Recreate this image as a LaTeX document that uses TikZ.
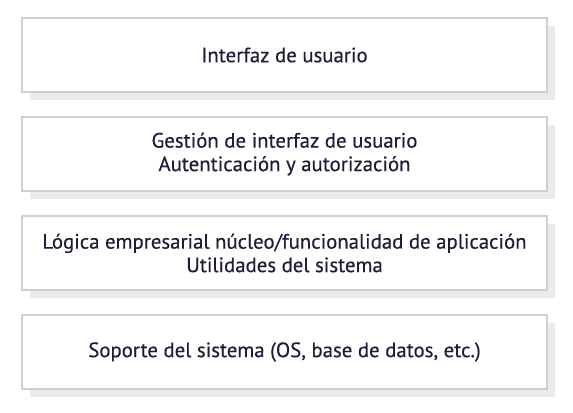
\documentclass[tikz,border=0pt]{standalone}
\usepackage{fontspec}
\setmainfont[FakeBold=0.3]{PT Sans}
\usetikzlibrary{shadows}
\definecolor{boxline}{HTML}{CFCFCF}
\definecolor{shadowgray}{HTML}{EBEBED}
\definecolor{txt}{HTML}{1E1C36}
\tikzset{
  layerbox/.style={draw=boxline, line width=2bp, fill=white,
    minimum width=525bp, minimum height=74bp, inner sep=0pt,
    align=center, text=txt, font=\fontsize{20.8bp}{23.5bp}\selectfont,
    drop shadow={shadow xshift=8bp, shadow yshift=-8bp, fill=shadowgray, opacity=1}}
}
\begin{document}
\begin{tikzpicture}[x=1bp,y=-1bp]
\fill[white] (0,0) rectangle (573,412);
\useasboundingbox (0,0) rectangle (573,412);
\node[layerbox] (ui) at (284.5,55) {Interfaz de usuario};
\node[layerbox] (gest) at (284.5,154) {Gestión de interfaz de usuario\\Autenticación y autorización};
\node[layerbox] (logic) at (284.5,253) {Lógica empresarial núcleo/funcionalidad de aplicación\\Utilidades del sistema};
\node[layerbox] (sup) at (284.5,352) {Soporte del sistema (OS, base de datos, etc.)};
\end{tikzpicture}
\end{document}
